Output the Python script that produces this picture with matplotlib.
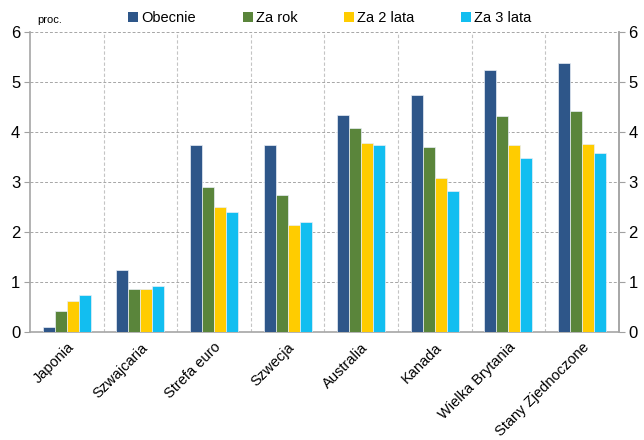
import numpy as np
import matplotlib.pyplot as plt
from matplotlib.patches import Patch

plt.rcParams['font.family'] = ['Liberation Sans', 'DejaVu Sans']

# Data
countries = ["Japonia", "Szwajcaria", "Strefa euro", "Szwecja", "Australia",
             "Kanada", "Wielka Brytania", "Stany Zjednoczone"]
series_names = ["Obecnie", "Za rok", "Za 2 lata", "Za 3 lata"]
obecnie = [0.10, 1.25, 3.75, 3.75, 4.35, 4.75, 5.25, 5.38]
za_rok = [0.43, 0.87, 2.90, 2.74, 4.08, 3.70, 4.33, 4.42]
za_2_lata = [0.63, 0.87, 2.50, 2.15, 3.79, 3.09, 3.74, 3.77]
za_3_lata = [0.75, 0.92, 2.41, 2.20, 3.75, 2.83, 3.48, 3.58]
colors = ["#2E5689", "#5A853B", "#FFCC00", "#12BEF0"]

series = [obecnie, za_rok, za_2_lata, za_3_lata]

fig = plt.figure(figsize=(6.44, 4.4), dpi=100)
ax = fig.add_axes([0.0466, 0.2455, 0.9144, 0.681])

x = np.arange(len(countries))
w = 0.163
for i, (vals, c) in enumerate(zip(series, colors)):
    ax.bar(x + (i - 1.5) * w, vals, w, color=c, edgecolor='#E8EEF6',
           linewidth=0.5, zorder=3)

ax.set_xlim(-0.5, len(countries) - 0.5)
ax.set_ylim(0, 6)
ax.set_yticks(range(7))
ax.tick_params(axis='y', labelsize=12, length=4, color='#A0A0A0', pad=3)

ax.set_xticks(x)
ax.set_xticklabels(countries, rotation=45, ha='right', rotation_mode='anchor',
                   fontsize=10.5)
ax.tick_params(axis='x', length=0, pad=6)

# grid: dashed horizontal and dashed separators between categories
ax.grid(axis='y', linestyle=(0, (3, 2)), color='#A6A6A6', linewidth=0.7, zorder=0)
for b in np.arange(0.5, len(countries) - 0.5, 1):
    ax.axvline(b, linestyle=(0, (3, 2)), color='#C4C4C4', linewidth=0.8, zorder=0)

ax.spines['top'].set_visible(False)
for s in ['left', 'right', 'bottom']:
    ax.spines[s].set_color('#A6A6A6')
    ax.spines[s].set_linewidth(1.2)

ax2 = ax.twinx()
ax2.set_ylim(0, 6)
ax2.set_yticks(range(7))
ax2.tick_params(axis='y', labelsize=12, length=4, color='#A0A0A0', pad=3)
for s in ['top', 'left', 'bottom']:
    ax2.spines[s].set_visible(False)
ax2.spines['right'].set_color('#A6A6A6')
ax2.spines['right'].set_linewidth(1.2)

fig.text(0.058, 0.955, "proc.", fontsize=8, ha='left', va='center')

handles = [Patch(facecolor=c, edgecolor='none') for c in colors]
fig.legend(handles, series_names, loc='center', bbox_to_anchor=(0.512, 0.958),
           ncol=4, frameon=False, fontsize=10.5, handlelength=0.7,
           handleheight=0.7, handletextpad=0.2, columnspacing=3.2)

fig.savefig("out.png", dpi=100)
